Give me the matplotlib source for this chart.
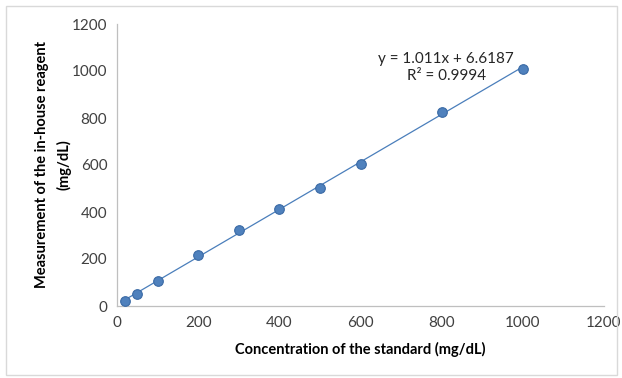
import matplotlib
matplotlib.use("Agg")
import matplotlib.pyplot as plt
from matplotlib.patches import Rectangle
import numpy as np

x_vals = [20, 50, 100, 200, 300, 400, 500, 600, 800, 1000]
y_vals = [21, 51, 107, 216, 324, 412, 504, 605, 824, 1008]
slope = 1.011
intercept = 6.6187
eq_text = "y = 1.011x + 6.6187\nR² = 0.9994"
ticks = [0, 200, 400, 600, 800, 1000, 1200]

plt.rcParams['font.family'] = ['Lato', 'DejaVu Sans']

fig = plt.figure(figsize=(6.22, 3.78), dpi=100)
fig.patches.append(Rectangle((6/622, 3/378), 611/622, 369/378, transform=fig.transFigure,
                             fill=False, edgecolor='#d9d9d9', linewidth=1.0))
ax = fig.add_axes([117/622, 1-306/378, (604-117)/622, (306-24)/378])

xl = np.array([min(x_vals), max(x_vals)])
ax.plot(xl, slope*xl + intercept, color='#4a7ebb', linewidth=0.9, zorder=2)
ax.scatter(x_vals, y_vals, s=48, color='#4f81bd', edgecolors='#3a6aa5', linewidths=0.8, zorder=3)

ax.set_xlim(0, 1200)
ax.set_ylim(0, 1200)
ax.set_xticks(ticks)
ax.set_yticks(ticks)
ax.tick_params(length=0, labelsize=11, colors='#404040', pad=7)
for s in ['top', 'right']:
    ax.spines[s].set_visible(False)
for s in ['left', 'bottom']:
    ax.spines[s].set_color('#bfbfbf')
    ax.spines[s].set_linewidth(0.9)

ax.set_xlabel("Concentration of the standard (mg/dL)", fontsize=10.5, fontweight='bold', labelpad=9)
ax.set_ylabel("Measurement of the in-house reagent\n(mg/dL)", fontsize=10.5, fontweight='bold',
              labelpad=0, linespacing=1.6)

ax.text(811, 1015, eq_text, ha='center', va='center', fontsize=11, color='#262626', linespacing=1.3)

fig.savefig("out.png", dpi=100)
